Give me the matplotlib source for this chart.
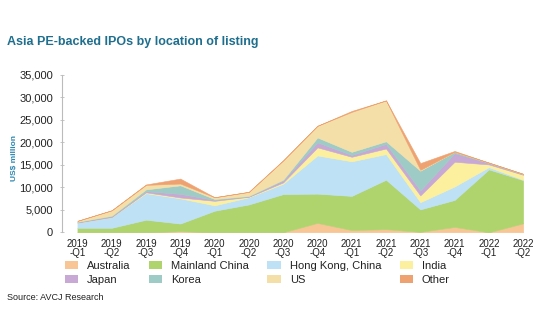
import matplotlib.pyplot as plt
from matplotlib.patches import Patch

plt.rcParams["font.family"] = ["Liberation Sans", "DejaVu Sans"]

quarters = [
    "2019\n-Q1", "2019\n-Q2", "2019\n-Q3", "2019\n-Q4",
    "2020\n-Q1", "2020\n-Q2", "2020\n-Q3", "2020\n-Q4",
    "2021\n-Q1", "2021\n-Q2", "2021\n-Q3", "2021\n-Q4",
    "2022\n-Q1", "2022\n-Q2",
]

# US$ million per quarter, by listing venue
australia = [0, 0, 0, 250, 0, 0, 0, 2100, 500, 700, 100, 1200, 0, 2000]
mainland_china = [1000, 1000, 2800, 1700, 4800, 6200, 8500, 6500, 7600, 11000, 5000, 6000, 14000, 9600]
hong_kong = [1150, 2400, 5900, 5600, 1200, 1600, 2300, 8500, 7700, 5700, 1600, 3000, 500, 100]
india = [0, 0, 200, 200, 1000, 100, 300, 1800, 1000, 1250, 1500, 5500, 600, 1100]
japan = [100, 150, 250, 800, 200, 100, 400, 1100, 400, 1000, 1100, 1900, 300, 100]
korea = [100, 150, 400, 1900, 200, 100, 200, 1100, 700, 600, 4400, 300, 100, 100]
us = [200, 1200, 1000, 400, 400, 900, 4300, 2600, 8900, 9100, 200, 0, 0, 0]
other = [0, 0, 100, 1100, 0, 0, 0, 0, 200, 0, 1500, 200, 0, 0]

names = ["Australia", "Mainland China", "Hong Kong, China", "India",
         "Japan", "Korea", "US", "Other"]
colors = ["#F8C594", "#AFD46E", "#BEE1F6", "#FCF09E",
          "#C8A8D4", "#9ECBC6", "#F4DFA8", "#EFA271"]

fig = plt.figure(figsize=(5.4, 3.34), dpi=100)
ax = fig.add_axes([62 / 540, 1 - 232.3 / 334, 468 / 540, 157.3 / 334])

x = list(range(len(quarters)))
series = [australia, mainland_china, hong_kong, india, japan, korea, us, other]
ax.stackplot(x, *series, colors=colors, linewidth=0.4, edgecolor="face")

ax.set_xlim(-0.45, 13.2)
ax.set_ylim(0, 35000)
ax.set_yticks(range(0, 35001, 5000))
ax.set_yticklabels([f"{v:,}" for v in range(0, 35001, 5000)])
ax.set_xticks(x)
ax.set_xticklabels(quarters, linespacing=0.9)

for side in ["top", "right", "bottom"]:
    ax.spines[side].set_visible(False)
ax.spines["left"].set_color("#BBBBBB")
ax.spines["left"].set_linewidth(0.8)
ax.tick_params(axis="y", direction="inout", length=3, width=0.6, color="#BBBBBB",
               labelsize=8, labelcolor="#222222", pad=5)
ax.tick_params(axis="x", length=0, labelsize=7, labelcolor="#222222", pad=5)

ax.set_ylabel("US$ million", fontsize=6, fontweight="bold", color="#2A86B0", labelpad=4)
ax.yaxis.set_label_coords(-0.095, 0.47)

fig.text(7 / 540, 1 - 42 / 334, "Asia PE-backed IPOs by location of listing",
         fontsize=9, fontweight="bold", color="#1E6E8E", va="center", ha="left")

handles = [Patch(facecolor=c, edgecolor="none") for c in colors]
order = [0, 4, 1, 5, 2, 6, 3, 7]
fig.legend([handles[i] for i in order], [names[i] for i in order],
           loc="upper left", bbox_to_anchor=(65 / 540, 1 - 261 / 334),
           ncol=4, frameon=False, fontsize=8, borderpad=0, borderaxespad=0,
           handlelength=1.2, handleheight=0.65, handletextpad=0.8,
           columnspacing=1.65, labelspacing=0.35, labelcolor="#222222")

fig.text(7 / 540, 1 - 298 / 334, "Source: AVCJ Research", fontsize=6.5,
         color="#222222", va="center", ha="left")

fig.savefig("out.png", dpi=100)
plt.close(fig)
